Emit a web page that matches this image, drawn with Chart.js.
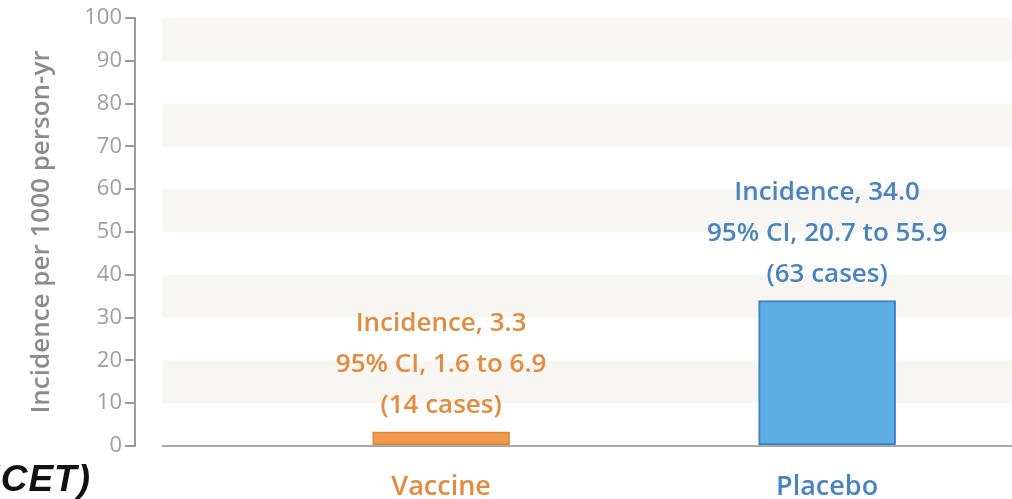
<!DOCTYPE html>
<html>
<head>
<meta charset="utf-8">
<script src="https://cdn.jsdelivr.net/npm/chart.js@4/dist/chart.umd.min.js"></script>
<style>
  html, body { margin: 0; padding: 0; background: #fff; overflow: hidden; }
  #wrap { position: relative; width: 1012px; height: 499px; }
  #src {
    position: absolute; right: 921px; top: 458px;
    font: italic bold 37px "Liberation Sans", Arial, sans-serif;
    color: #111; white-space: nowrap; letter-spacing: 1px;
  }
</style>
</head>
<body>
<div id="wrap">
  <canvas id="chart" width="1012" height="499"></canvas>
  <div id="src">(LANCET)</div>
</div>
<script>
  const categories = ['Vaccine', 'Placebo'];
  const incidence = [3.3, 34.0];
  const ciLow = [1.6, 20.7];
  const ciHigh = [6.9, 55.9];
  const cases = [14, 63];
  const yTicks = [0, 10, 20, 30, 40, 50, 60, 70, 80, 90, 100];

  const fillColors = ['#f4994a', '#5badE3'];
  const edgeColors = ['#da8a3e', '#3f80c0'];
  const textColors = ['#e38b3e', '#4a84c0'];
  const FONT = '"Open Sans", "Noto Sans", sans-serif';

  // shaded bands, baseline and the bar annotations
  const backdrop = {
    id: 'backdrop',
    beforeDatasetsDraw(chart) {
      const { ctx, chartArea, scales: { y } } = chart;
      const left = 162;
      ctx.save();
      ctx.fillStyle = '#f7f6f2';
      yTicks.forEach(v => {
        if (v % 20 === 10) {
          const top = y.getPixelForValue(v + 10);
          const bot = y.getPixelForValue(v);
          ctx.fillRect(left, top, chartArea.right - left, bot - top);
        }
      });
      ctx.strokeStyle = '#a8a8a8';
      ctx.lineWidth = 2;
      ctx.beginPath();
      ctx.moveTo(left, y.getPixelForValue(0));
      ctx.lineTo(chartArea.right, y.getPixelForValue(0));
      ctx.stroke();
      ctx.restore();
    },
    afterDatasetsDraw(chart) {
      const { ctx } = chart;
      const meta = chart.getDatasetMeta(0);
      ctx.save();
      ctx.font = '600 26px ' + FONT;
      ctx.textAlign = 'center';
      ctx.textBaseline = 'middle';
      meta.data.forEach((bar, i) => {
        const lines = [
          'Incidence, ' + incidence[i].toFixed(1),
          '95% CI, ' + ciLow[i].toFixed(1) + ' to ' + ciHigh[i].toFixed(1),
          '(' + cases[i] + ' cases)'
        ];
        ctx.fillStyle = textColors[i];
        lines.forEach((t, k) => {
          ctx.fillText(t, bar.x, bar.y - 26 - (2 - k) * 41);
        });
      });
      ctx.restore();
    }
  };

  new Chart(document.getElementById('chart'), {
    type: 'bar',
    data: {
      datasets: [{
        data: categories.map((c, i) => ({ x: i + 1, y: incidence[i] })),
        backgroundColor: fillColors,
        borderColor: edgeColors,
        borderWidth: 2,
        borderSkipped: false,
        barThickness: 137
      }]
    },
    options: {
      responsive: false,
      animation: false,
      layout: { padding: { top: 18, right: 0, left: 0, bottom: 0 } },
      plugins: { legend: { display: false }, tooltip: { enabled: false } },
      scales: {
        x: {
          type: 'linear',
          offset: false,
          min: 0.207,
          max: 2.479,
          grid: { display: false },
          border: { display: false },
          afterBuildTicks: s => { s.ticks = categories.map((c, i) => ({ value: i + 1 })); },
          afterFit: s => { s.height = 53; },
          ticks: {
            padding: 17,
            font: { family: FONT, size: 27, weight: '600' },
            color: ctx => textColors[ctx.index],
            callback: v => categories[v - 1]
          }
        },
        y: {
          min: 0,
          max: 100,
          afterBuildTicks: s => { s.ticks = yTicks.map(v => ({ value: v })); },
          afterFit: s => { s.width = 135; },
          border: { display: true, color: '#9c9c9c', width: 2 },
          grid: { drawOnChartArea: false, drawTicks: true, tickLength: 10, color: '#9c9c9c', lineWidth: 2 },
          ticks: {
            padding: 3,
            font: { family: FONT, size: 22 },
            color: '#9e9e9e'
          },
          title: {
            display: true,
            text: 'Incidence per 1000 person-yr',
            color: '#8c8c8c',
            font: { family: FONT, size: 26, weight: '600' },
            padding: { top: 26, bottom: 0 }
          }
        }
      }
    },
    plugins: [backdrop]
  });
</script>
</body>
</html>
